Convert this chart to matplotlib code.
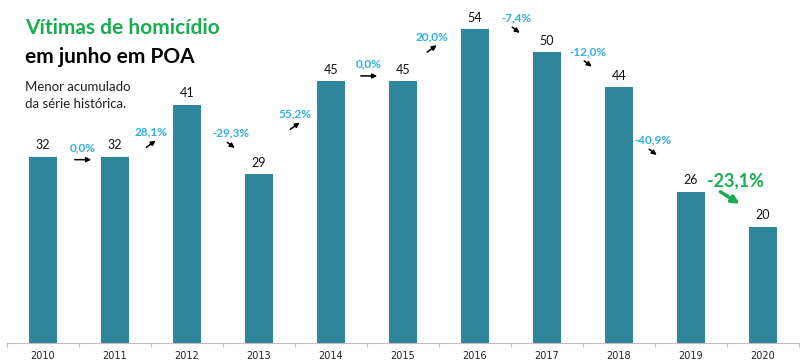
import matplotlib.pyplot as plt
from matplotlib.patches import FancyArrowPatch
import numpy as np

plt.rcParams['font.family'] = ['Lato', 'DejaVu Sans']

# dados
anos = ['2010', '2011', '2012', '2013', '2014', '2015', '2016', '2017', '2018', '2019', '2020']
vitimas = [32, 32, 41, 29, 45, 45, 54, 50, 44, 26, 20]

# altura (em unidades do eixo) e deslocamento (px) de cada rótulo de variação
pct_y = [33.6, 36.3, 36.1, 39.4, 48.0, 52.7, 55.9, 50.1, 34.9, 27.9]
pct_dx = [4, 0, 8, 0, 2, -7, 5, 5, -2, 8]

barra = '#2f869b'
ciano = '#2eb2e3'
verde = '#1aac50'

fig = plt.figure(figsize=(8, 3.64), dpi=100)
ax = fig.add_axes([7/800, 21/364, 792/800, 343/364])

x = np.arange(len(anos))
ax.bar(x, vitimas, width=0.39, color=barra)
for xi, v in zip(x, vitimas):
    ax.annotate(str(v), (xi, v), xytext=(0, 4), textcoords='offset points',
                ha='center', va='bottom', fontsize=9, color='#111')

ax.set_xlim(-0.5, len(anos) - 0.5)
ax.set_ylim(0, 59)

# variações ano a ano
for i in range(len(vitimas) - 1):
    v0, v1 = vitimas[i], vitimas[i+1]
    p = (v1 - v0) / v0 * 100
    txt = ('%.1f%%' % p).replace('.', ',')
    ultimo = i == len(vitimas) - 2
    xm = i + 0.5
    ym = pct_y[i]
    ax.annotate(txt, (xm, ym), xytext=(pct_dx[i], 0), textcoords='offset pixels',
                ha='center', va='center',
                fontsize=13 if ultimo else 8.5, fontweight='bold',
                color=verde if ultimo else ciano)
    # seta
    if ultimo:
        d = (24, -15)
    elif p > 0:
        d = (14, 10)
    elif p < 0:
        d = (12, -9)
    else:
        d = (22, 0)
    cy = -17 if ultimo else -12
    cx = pct_dx[i] - (5 if ultimo else 0)
    px, py = ax.transData.transform((xm, ym))
    seta = FancyArrowPatch((px + cx - d[0]/2, py + cy - d[1]/2),
                           (px + cx + d[0]/2, py + cy + d[1]/2),
                           transform=None, arrowstyle='-|>',
                           mutation_scale=11 if ultimo else 7,
                           lw=2.5 if ultimo else 1.1,
                           color=verde if ultimo else 'black')
    fig.patches.append(seta)

# eixos
for s in ['top', 'right', 'left']:
    ax.spines[s].set_visible(False)
ax.spines['bottom'].set_color('#bfbfbf')
ax.set_yticks([])
ax.set_xticks(np.arange(len(anos) + 1) - 0.5)
ax.set_xticklabels([])
ax.tick_params(axis='x', which='major', length=3, color='#bfbfbf')
ax.set_xticks(x, minor=True)
ax.set_xticklabels(anos, minor=True, fontsize=7, color='#222',
                   family=['Liberation Sans Narrow', 'DejaVu Sans'])
ax.tick_params(axis='x', which='minor', length=0, pad=6)

# título
fig.text(25/800, 1 - 28/364, 'Vítimas de homicídio', fontsize=15, fontweight='bold',
         color=verde, va='center', ha='left')
fig.text(25/800, 1 - 57/364, 'em junho em POA', fontsize=15, fontweight='bold',
         color='black', va='center', ha='left')
fig.text(25/800, 1 - 87/364, 'Menor acumulado', fontsize=9.5, color='#222',
         va='center', ha='left')
fig.text(25/800, 1 - 104/364, 'da série histórica.', fontsize=9.5, color='#222',
         va='center', ha='left')

plt.savefig('out.png', dpi=100)
